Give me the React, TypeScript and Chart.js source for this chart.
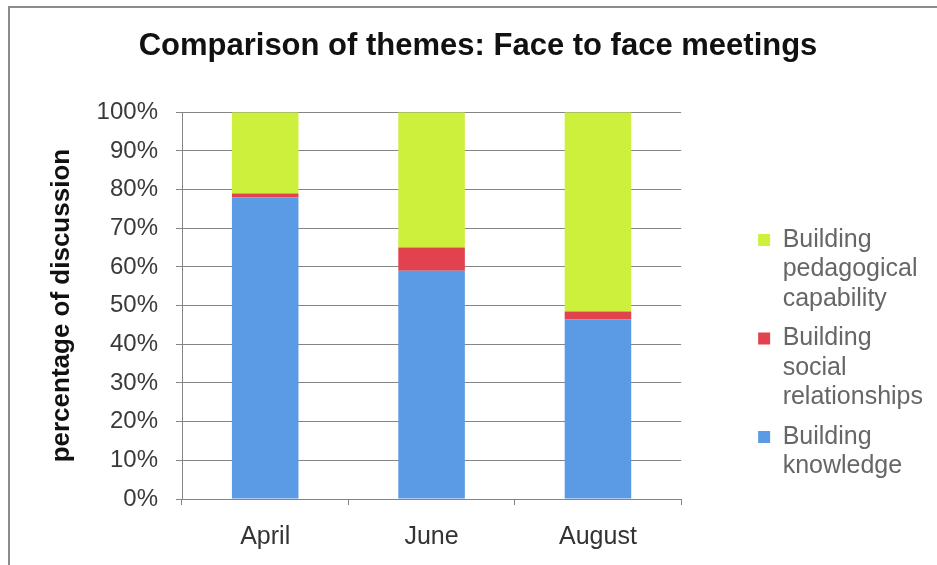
import React, { useEffect, useRef } from "react";
import { Chart, registerables } from "chart.js";

Chart.register(...registerables);

const categories = ["April", "June", "August"];
const knowledgeValues = [78, 59, 46.5];
const socialValues = [1, 6, 2];
const pedagogicalValues = [21, 35, 51.5];
const seriesNames = ["Building knowledge", "Building social relationships", "Building pedagogical capability"];
const legendLines = [
  ["Building", "knowledge"],
  ["Building", "social", "relationships"],
  ["Building", "pedagogical", "capability"],
];
const yTicks = [0, 10, 20, 30, 40, 50, 60, 70, 80, 90, 100];
const titleText = "Comparison of themes: Face to face meetings";
const yTitleText = "percentage of discussion";

const COLORS = ["#5b9be6", "#e0424e", "#ccf03c"];
const GRID = "#858585";
const FONT = "'Liberation Sans', Arial, sans-serif";

const framePlugin = {
  id: "frame",
  beforeDraw(chart: any) {
    const ctx = chart.ctx;
    ctx.save();
    ctx.fillStyle = "#ffffff";
    ctx.fillRect(0, 0, chart.width, chart.height);
    ctx.strokeStyle = "#8c8c8c";
    ctx.lineWidth = 2;
    ctx.beginPath();
    ctx.moveTo(9, chart.height);
    ctx.lineTo(9, 7);
    ctx.lineTo(chart.width, 7);
    ctx.stroke();
    ctx.restore();
  },
};

export default function App() {
  const ref = useRef<HTMLCanvasElement | null>(null);

  useEffect(() => {
    document.body.style.margin = "0";
    const canvas = ref.current;
    if (!canvas) return;
    const chart = new Chart(canvas, {
      type: "bar",
      data: {
        labels: categories,
        datasets: [
          { label: seriesNames[0], data: knowledgeValues, backgroundColor: COLORS[0] },
          { label: seriesNames[1], data: socialValues, backgroundColor: COLORS[1] },
          { label: seriesNames[2], data: pedagogicalValues, backgroundColor: COLORS[2] },
        ],
      },
      options: {
        responsive: false,
        animation: false,
        datasets: { bar: { categoryPercentage: 1, barPercentage: 0.4 } },
        layout: { padding: { left: 23, right: 4, top: 0, bottom: 13 } },
        plugins: {
          tooltip: { enabled: false },
          title: {
            display: true,
            text: titleText,
            color: "#111111",
            font: { family: FONT, size: 31, weight: "bold" },
            padding: { top: 28, bottom: 47 },
          },
          legend: {
            position: "right",
            align: "start",
            reverse: true,
            maxWidth: 400,
            title: {
              display: true,
              text: "",
              font: { family: FONT, size: 10, lineHeight: 1 },
              padding: { top: 0, bottom: 207.5 },
            },
            labels: {
              color: "#333333",
              font: { family: FONT, size: 25, lineHeight: 1.18 },
              boxWidth: 12,
              boxHeight: 12,
              padding: 10,
              generateLabels: (ch: any) =>
                ch.data.datasets.map((ds: any, i: number) => ({
                  text: legendLines[i],
                  fillStyle: COLORS[i],
                  strokeStyle: COLORS[i],
                  lineWidth: 0,
                  hidden: false,
                  datasetIndex: i,
                })),
            },
          },
        },
        scales: {
          x: {
            stacked: true,
            offset: true,
            afterFit: (s: any) => { s.height = 53; },
            grid: { display: true, drawOnChartArea: false, drawTicks: true, tickLength: 6, color: GRID },
            border: { display: true, color: GRID },
            ticks: { color: "#333333", font: { family: FONT, size: 25 }, padding: 17, maxRotation: 0 },
          },
          y: {
            stacked: true,
            min: 0,
            max: 100,
            afterFit: (s: any) => { s.width = 159; },
            afterBuildTicks: (s: any) => { s.ticks = yTicks.map((v) => ({ value: v })); },
            grid: { color: GRID, tickLength: 6, drawTicks: true },
            border: { display: true, color: GRID },
            ticks: {
              color: "#3a3a3a",
              font: { family: FONT, size: 24 },
              padding: 18,
              callback: (v: any) => v + "%",
            },
            title: {
              display: true,
              text: yTitleText,
              color: "#111111",
              font: { family: FONT, size: 26, weight: "bold" },
              padding: { top: 23, bottom: 0 },
            },
          },
          gap: {
            type: "linear",
            position: "right",
            display: true,
            grid: { display: false, drawTicks: false },
            border: { display: false },
            ticks: { display: false },
            afterFit: (s: any) => { s.width = 67; },
          },
        },
      },
      plugins: [framePlugin],
    } as any);
    return () => chart.destroy();
  }, []);

  return (
    <div style={{ width: 937, height: 565 }}>
      <canvas ref={ref} width={937} height={565} style={{ display: "block", width: 937, height: 565 }} />
    </div>
  );
}
